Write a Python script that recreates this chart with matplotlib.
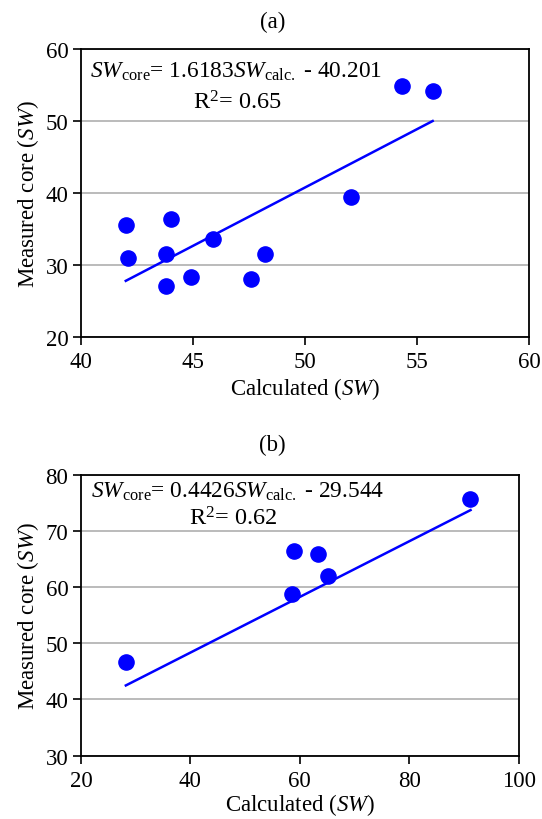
import numpy as np
import matplotlib
matplotlib.use('Agg')
import matplotlib.pyplot as plt

plt.rcParams['font.family'] = 'Liberation Serif'
plt.rcParams['mathtext.fontset'] = 'custom'
plt.rcParams['mathtext.rm'] = 'Liberation Serif'
plt.rcParams['mathtext.it'] = 'Liberation Serif:italic'

# (a)
calc_a = [42.0, 42.1, 44.0, 43.8, 43.8, 44.9, 45.9, 47.6, 48.2, 52.05, 54.35, 55.7]
core_a = [35.6, 31.0, 36.4, 31.5, 27.1, 28.4, 33.6, 28.0, 31.5, 39.5, 54.8, 54.1]
trend_a_x = [42.0, 55.7]
trend_a_y = [27.8, 50.0]

# (b)
calc_b = [28.2, 58.9, 63.3, 65.2, 58.6, 91.1]
core_b = [46.7, 66.5, 65.9, 62.0, 58.8, 75.6]
trend_b_x = [28.2, 91.2]
trend_b_y = [42.5, 73.7]

fig = plt.figure(figsize=(5.42, 8.2), dpi=100)
ax1 = fig.add_axes([0.1494, 0.5878, 0.8266, 0.3512])
ax2 = fig.add_axes([0.1494, 0.0772, 0.8076, 0.3427])

FS = 16.5


def style(ax, xlim, ylim, xt, yt, xpad):
    ax.set_xlim(*xlim)
    ax.set_ylim(*ylim)
    ax.set_xticks(xt)
    ax.set_yticks(yt)
    ax.yaxis.grid(True, color='#a8a8a8', lw=1.1)
    ax.set_axisbelow(True)
    for s in ax.spines.values():
        s.set_linewidth(1.3)
    ax.tick_params(direction='out', length=6, width=1.2, labelsize=FS, pad=3)
    ax.tick_params(axis='x', pad=4)
    ax.set_xlabel('Calculated ($\\mathit{SW}$)', fontsize=FS, labelpad=xpad)
    ax.set_ylabel('Measured core ($\\mathit{SW}$)', fontsize=FS, labelpad=3)


ax1.scatter(calc_a, core_a, s=120, color='#0000ff', zorder=3)
ax1.plot(trend_a_x, trend_a_y, color='#0000ff', lw=1.8, zorder=2)
style(ax1, (40, 60), (20, 60), [40, 45, 50, 55, 60], [20, 30, 40, 50, 60], 2)
ax1.text(0.02, 0.924, '$SW_{\\mathrm{core}}$= 1.6183$SW_{\\mathrm{calc.}}$ - 40.201',
         transform=ax1.transAxes, fontsize=16.8, va='center', ha='left')
ax1.text(0.348, 0.816, 'R$^2$= 0.65', transform=ax1.transAxes, fontsize=17.5,
         va='center', ha='center')

ax2.scatter(calc_b, core_b, s=120, color='#0000ff', zorder=3)
ax2.plot(trend_b_x, trend_b_y, color='#0000ff', lw=1.8, zorder=2)
style(ax2, (20, 100), (30, 80), [20, 40, 60, 80, 100], [30, 40, 50, 60, 70, 80], 0)
ax2.text(0.024, 0.941, '$SW_{\\mathrm{core}}$= 0.4426$SW_{\\mathrm{calc.}}$ - 29.544',
         transform=ax2.transAxes, fontsize=16.8, va='center', ha='left')
ax2.text(0.347, 0.846, 'R$^2$= 0.62', transform=ax2.transAxes, fontsize=17.5,
         va='center', ha='center')

fig.text(0.503, 1 - 22 / 820, '(a)', fontsize=FS, ha='center', va='center')
fig.text(0.503, 1 - 445 / 820, '(b)', fontsize=FS, ha='center', va='center')

fig.savefig('out.png', dpi=100)
